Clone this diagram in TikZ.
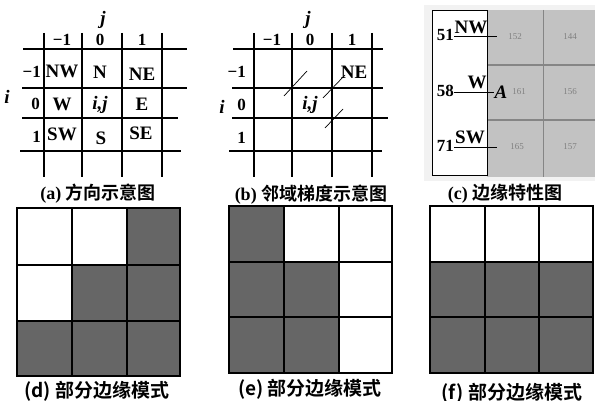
\documentclass[tikz,border=0pt]{standalone}
\usepackage{fontspec}
\setmainfont{Liberation Serif}
\newfontfamily\cjk{Noto Sans CJK SC}[BoldFont={Noto Sans CJK SC Bold}]
\definecolor{cellgray}{gray}{0.4}
\definecolor{pixgray}{gray}{0.76}
\definecolor{pixline}{gray}{0.52}

\begin{document}
\begin{tikzpicture}[x=1pt,y=-1pt,
  gridline/.style={line width=1.5pt},
  idx/.style={font=\fontsize{17}{17}\selectfont\bfseries, inner sep=0pt},
  dir/.style={font=\fontsize{19}{19}\selectfont\bfseries, inner sep=0pt},
  var/.style={font=\fontsize{19}{19}\selectfont\bfseries\itshape, inner sep=0pt},
  pix/.style={font=\fontsize{9}{9}\selectfont, text=black!50, inner sep=0pt},
  captext/.style={font=\fontsize{18}{18}\selectfont\bfseries},
  capsans/.style={font=\fontsize{19}{19}\selectfont\cjk\bfseries},
  cellline/.style={line width=1.2pt}]
  \useasboundingbox (0,0) rectangle (595,401);

  % (a)
  \draw [gridline] (44,33) -- (44,177) (82,33) -- (82,177) (122,33) -- (122,177) (162,33) -- (162,177);
  \draw [gridline] (23,49) -- (187,49) (22,88) -- (187,88) (22,118) -- (178,118) (20,151) -- (181,151);
  \node [var] (aj) at (103,20) {j};
  \node [var] (ai) at (7,97) {i};
  \node [idx] (ac1) at (62,40) {−1};
  \node [idx] (ac2) at (100,40) {0};
  \node [idx] (ac3) at (142,40) {1};
  \node [idx, anchor=east] (ar1) at (41,72) {−1};
  \node [idx, anchor=east] (ar2) at (40,104) {0};
  \node [idx, anchor=east] (ar3) at (41,137) {1};
  \node [dir] (aNW) at (62,71) {NW};
  \node [dir] (aN)  at (100,72) {N};
  \node [dir] (aNE) at (142,74) {NE};
  \node [dir] (aW)  at (62,104) {W};
  \node [var] (aij) at (100,105) {i,j};
  \node [dir] (aE)  at (142,104) {E};
  \node [dir] (aSW) at (62,134) {SW};
  \node [dir] (aS)  at (101,138) {S};
  \node [dir] (aSE) at (141,133) {SE};
  \node [captext] (capa) at (98,194) {(a) {\cjk 方向示意图}};

  % (b)
  \draw [gridline] (254,33) -- (254,177) (292,33) -- (292,177) (332,33) -- (332,177) (372,33) -- (372,177);
  \draw [gridline] (233,49) -- (383,49) (232,88) -- (383,88) (232,118) -- (388,118) (229,151) -- (382,151);
  \node [var] (bj) at (308,20) {j};
  \node [var] (bi) at (222,107) {i};
  \node [idx] (bc1) at (272,40) {−1};
  \node [idx] (bc2) at (310,40) {0};
  \node [idx] (bc3) at (352,40) {1};
  \node [idx, anchor=east] (br1) at (246,72) {−1};
  \node [idx, anchor=east] (br2) at (246,105) {0};
  \node [idx, anchor=east] (br3) at (246,138) {1};
  \node [dir] (bNE) at (354,72) {NE};
  \node [var] (bij) at (310,105) {i,j};
  \coordinate (s1a) at (284,96);  \coordinate (s1b) at (307,71);
  \coordinate (s2a) at (323,98);  \coordinate (s2b) at (345,75);
  \coordinate (s3a) at (325,128); \coordinate (s3b) at (343,109);
  \draw [line width=0.7pt] (s1a) -- (s1b) (s2a) -- (s2b) (s3a) -- (s3b);
  \node [captext] (capb) at (311,195) {(b) {\cjk 邻域梯度示意图}};

  % (c)
  \fill [black!5] (424,5) rectangle (595,181);
  \fill [pixgray] (487,10) rectangle (595,177);
  \draw [pixline, line width=1pt] (543,10) -- (543,177);
  \draw [pixline, line width=1.5pt] (487,65) -- (595,65) (487,120) -- (595,120);
  \draw [fill=white, line width=0.8pt] (432,10) rectangle (487,175);
  \node [pix] (p11) at (515,37) {152};
  \node [pix] (p12) at (570,37) {144};
  \node [pix] (p21) at (519,92) {161};
  \node [pix] (p22) at (570,92) {156};
  \node [pix] (p31) at (517,147) {165};
  \node [pix] (p32) at (570,147) {157};
  \node [idx, anchor=east] (c51) at (454,35) {51};
  \node [idx, anchor=east] (c58) at (454,91) {58};
  \node [idx, anchor=east] (c71) at (454,146) {71};
  \node [dir, anchor=south] (cNW) at (471,34) {NW};
  \node [dir, anchor=south] (cW)  at (477,89) {W};
  \node [dir, anchor=south] (cSW) at (470,144) {SW};
  \node [var] (cA) at (501,92) {A};
  \coordinate (eNW) at (497,36);
  \coordinate (eSW) at (497,147);
  \draw [line width=0.8pt] (c51.east |- eNW) -- (eNW);
  \draw [line width=0.8pt] (c58.east |- cA) -- (cA.west);
  \draw [line width=0.8pt] (c71.east |- eSW) -- (eSW);
  \node [captext] (capc) at (505,194) {(c) {\cjk 边缘特性图}};

  % (d)
  \fill [cellgray] (127,208) -- (180,208) -- (180,376) -- (17,376) -- (17,321) -- (72,321) -- (72,265) -- (127,265) -- cycle;
  \draw [cellline] (17,208) rectangle (180,376);
  \draw [cellline] (72,208) -- (72,376) (127,208) -- (127,376) (17,265) -- (180,265) (17,321) -- (180,321);
  \node [capsans] (capd) at (97,391) {(d) 部分边缘模式};

  % (e)
  \fill [cellgray] (229,206) -- (284,206) -- (284,262) -- (339,262) -- (339,373) -- (229,373) -- cycle;
  \draw [cellline] (229,206) rectangle (392,373);
  \draw [cellline] (284,206) -- (284,373) (339,206) -- (339,373) (229,262) -- (392,262) (229,317) -- (392,317);
  \node [capsans] (cape) at (310,389) {(e) 部分边缘模式};

  % (f)
  \fill [cellgray] (430,262) rectangle (593,373);
  \draw [cellline] (430,206) rectangle (593,373);
  \draw [cellline] (485,206) -- (485,373) (539,206) -- (539,373) (430,262) -- (593,262) (430,317) -- (593,317);
  \node [capsans] (capf) at (512,393) {(f) 部分边缘模式};
\end{tikzpicture}
\end{document}
